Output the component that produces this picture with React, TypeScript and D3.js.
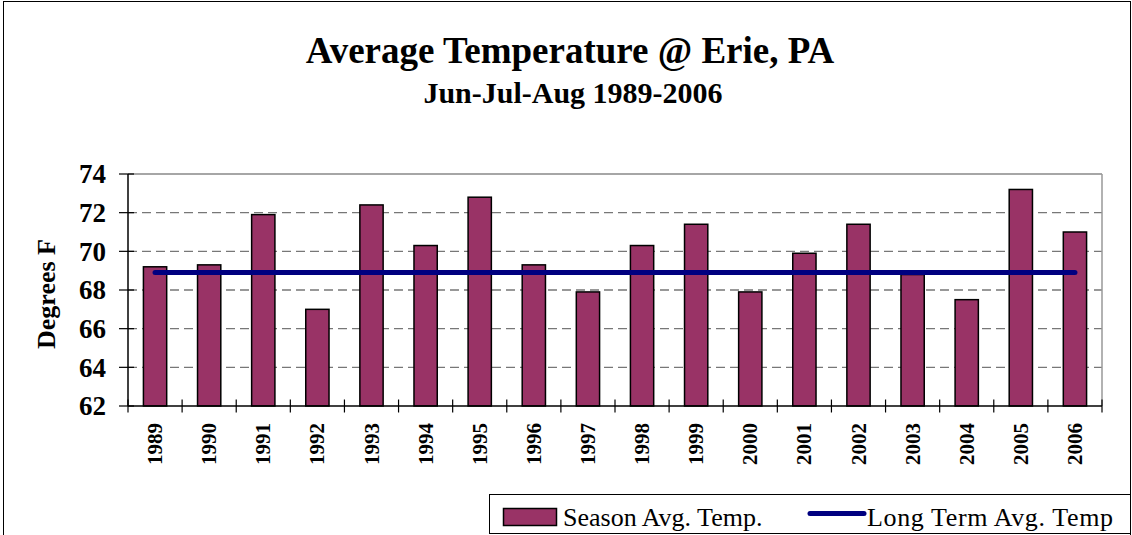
import React from 'react';
import * as d3 from 'd3';

const years = ['1989', '1990', '1991', '1992', '1993', '1994', '1995', '1996', '1997',
  '1998', '1999', '2000', '2001', '2002', '2003', '2004', '2005', '2006'];
const seasonAvg = [69.2, 69.3, 71.9, 67.0, 72.4, 70.3, 72.8, 69.3, 67.9,
  70.3, 71.4, 67.9, 69.9, 71.4, 68.8, 67.5, 73.2, 71.0];
const longTermAvg = 68.9;
const yTicks = [62, 64, 66, 68, 70, 72, 74];

const W = 1132;
const H = 535;
const font = '"Liberation Serif", "Times New Roman", serif';

export default function App() {
  const margin = { top: 174, right: 30, bottom: 129, left: 128 };
  const innerW = W - margin.left - margin.right;
  const innerH = H - margin.top - margin.bottom;

  const x = d3.scaleBand<string>()
    .domain(years)
    .range([0, innerW])
    .paddingInner(0.57)
    .paddingOuter(0.285);

  const y = d3.scaleLinear().domain([62, 74]).range([innerH, 0]);

  const step = x.step();
  const center = (yr: string) => (x(yr) ?? 0) + x.bandwidth() / 2;
  const boundaries = d3.range(years.length + 1).map(i => i * step);

  const line = d3.line<string>()
    .x(d => center(d))
    .y(() => y(longTermAvg));

  return (
    <svg width={W} height={H} style={{ position: 'absolute', left: 0, top: 0, background: '#fff' }}
      fontFamily={font}>
      <rect x={3.5} y={1.5} width={W - 5} height={H + 10} fill="#fff" stroke="#000" strokeWidth={1} />

      <text x={570} y={63} textAnchor="middle" fontSize={37} fontWeight="bold">
        Average Temperature @ Erie, PA
      </text>
      <text x={573} y={103} textAnchor="middle" fontSize={30} fontWeight="bold">
        Jun-Jul-Aug 1989-2006
      </text>

      <g transform={`translate(${margin.left},${margin.top})`}>
        {/* gridlines */}
        {yTicks.filter(t => t !== 62 && t !== 74).map(t => (
          <line key={t} x1={0} x2={innerW} y1={y(t)} y2={y(t)}
            stroke="#777" strokeWidth={1.3} strokeDasharray="9,5" />
        ))}
        <line x1={0} x2={innerW} y1={0} y2={0} stroke="#888" strokeWidth={1.5} />
        <line x1={innerW} x2={innerW} y1={0} y2={innerH} stroke="#999" strokeWidth={1.5} />

        {/* bars */}
        {years.map((yr, i) => (
          <rect key={yr} x={x(yr)} y={y(seasonAvg[i])} width={x.bandwidth()}
            height={innerH - y(seasonAvg[i])} fill="#993366" stroke="#000" strokeWidth={1.5} />
        ))}

        {/* long term average */}
        <path d={line(years) ?? ''} fill="none" stroke="#000080" strokeWidth={5} strokeLinecap="round" />

        {/* axes */}
        <line x1={0} x2={0} y1={0} y2={innerH} stroke="#000" strokeWidth={1.5} />
        <line x1={0} x2={innerW} y1={innerH} y2={innerH} stroke="#000" strokeWidth={1.5} />
        {yTicks.map(t => (
          <g key={t}>
            <line x1={-9} x2={6} y1={y(t)} y2={y(t)} stroke="#000" strokeWidth={1.2} />
            <text x={-22} y={y(t)} dy="0.35em" textAnchor="end" fontSize={27} fontWeight="bold">{t}</text>
          </g>
        ))}
        {boundaries.map((b, i) => (
          <line key={i} x1={b} x2={b} y1={innerH - 6.5} y2={innerH + 6.5} stroke="#000" strokeWidth={1.2} />
        ))}
        {years.map(yr => (
          <text key={yr} transform={`translate(${center(yr) + 7},${innerH + 17}) rotate(-90)`}
            textAnchor="end" fontSize={21} fontWeight="bold">{yr}</text>
        ))}

        <text transform={`translate(${55 - margin.left},${innerH / 2 + 4}) rotate(-90)`}
          textAnchor="middle" fontSize={26} fontWeight="bold">Degrees F</text>
      </g>

      {/* legend */}
      <g>
        <rect x={489.5} y={494.5} width={641} height={39} fill="#fff" stroke="#000" strokeWidth={1} />
        <rect x={503.5} y={508.5} width={53} height={17} fill="#993366" stroke="#000" strokeWidth={1.5} />
        <text x={563} y={526} fontSize={26}>Season Avg. Temp.</text>
        <line x1={810} x2={864} y1={513.5} y2={513.5} stroke="#000080" strokeWidth={5} strokeLinecap="round" />
        <text x={867} y={526} fontSize={26} textLength={246} lengthAdjust="spacing">Long Term Avg. Temp</text>
      </g>
    </svg>
  );
}
